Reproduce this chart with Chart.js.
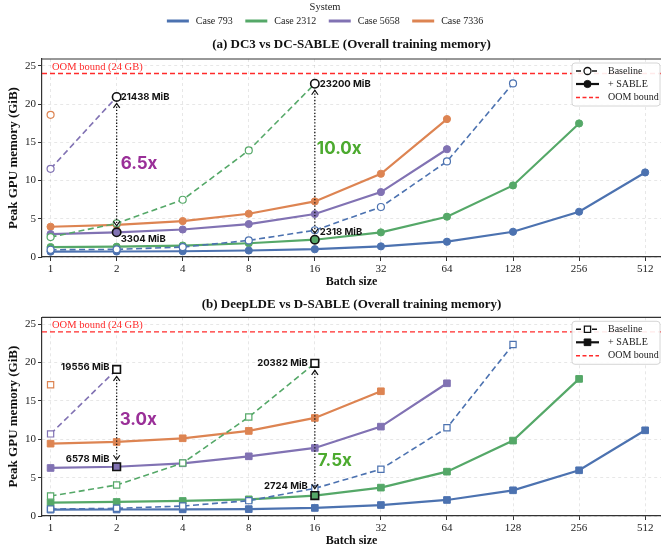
<!DOCTYPE html>
<html>
<head>
<meta charset="utf-8">
<script src="https://cdn.jsdelivr.net/npm/chart.js@4.4.1/dist/chart.umd.min.js"></script>
<style>
  html, body { margin: 0; padding: 0; background: #fff; }
  #wrap { position: relative; width: 661px; height: 553px; }
  canvas { position: absolute; left: 0; }
  #chartA { top: 0; }
  #chartB { top: 290px; }
</style>
</head>
<body>
<div id="wrap">
  <canvas id="chartA" width="661" height="290"></canvas>
  <canvas id="chartB" width="661" height="259"></canvas>
</div>
<script>
const batchSizes = [1, 2, 4, 8, 16, 32, 64, 128, 256, 512];
const caseNames = ["Case 793", "Case 2312", "Case 5658", "Case 7336"];
const caseColors = ["#4C72B0", "#55A868", "#8172B3", "#DD8452"];
const yTicks = [0, 5, 10, 15, 20, 25];
const OOM_GIB = 24;

// (a) DC3 (baseline) peak memory, GiB, starting at batch 1
const dc3Case793 = [0.95, 1.0, 1.3, 2.17, 3.5, 6.54, 12.5, 22.7];
const dc3Case2312 = [2.6, 4.4, 7.49, 13.94, 22.66];
const dc3Case5658 = [11.54, 20.94];
const dc3Case7336 = [18.6];
// (a) DC-SABLE
const dcsCase793 = [0.7, 0.72, 0.75, 0.85, 1.02, 1.39, 2.0, 3.3, 5.92, 11.06];
const dcsCase2312 = [1.3, 1.35, 1.5, 1.8, 2.26, 3.22, 5.27, 9.36, 17.47];
const dcsCase5658 = [3.0, 3.23, 3.6, 4.31, 5.62, 8.49, 14.1];
const dcsCase7336 = [3.96, 4.2, 4.7, 5.66, 7.27, 10.89, 18.04];

// (b) DeepLDE (baseline)
const ldeCase793 = [0.9, 1.0, 1.3, 2.0, 3.6, 6.1, 11.5, 22.35];
const ldeCase2312 = [2.6, 4.04, 6.9, 12.9, 19.9];
const ldeCase5658 = [10.7, 19.1];
const ldeCase7336 = [17.1];
// (b) D-SABLE
const dslCase793 = [0.83, 0.85, 0.87, 0.9, 1.05, 1.43, 2.09, 3.35, 5.96, 11.17];
const dslCase2312 = [1.74, 1.83, 1.96, 2.17, 2.66, 3.7, 5.78, 9.83, 17.87];
const dslCase5658 = [6.26, 6.42, 6.87, 7.78, 8.87, 11.65, 17.3];
const dslCase7336 = [9.43, 9.65, 10.13, 11.09, 12.78, 16.26];

// highlighted gaps (MiB labels)
const gapsA = [
  { caseIdx: 2, batch: 2, baseMiB: 21438, sableMiB: 3304, ratioY: 12.2, ratioColor: "#9a2f98", align: "left", dx: 4, baseDy: 0, sableDy: 6.5, ratioDx: 4 },
  { caseIdx: 1, batch: 16, baseMiB: 23200, sableMiB: 2318, ratioY: 14.2, ratioColor: "#4caa2f", align: "left", dx: 5, baseDy: 0, sableDy: -8, ratioDx: 2 }
];
const gapsB = [
  { caseIdx: 2, batch: 2, baseMiB: 19556, sableMiB: 6578, ratioY: 12.57, ratioColor: "#9a2f98", align: "right", dx: -7, baseDy: -2.5, sableDy: -8, ratioDx: 3 },
  { caseIdx: 1, batch: 16, baseMiB: 20382, sableMiB: 2724, ratioY: 7.17, ratioColor: "#4caa2f", align: "right", dx: -7, baseDy: 0, sableDy: -9.5, ratioDx: 3 }
];

const SERIF = '"Liberation Serif", "Times New Roman", serif';
const SANS = 'Inter, "DejaVu Sans", sans-serif';
const X_MIN = Math.pow(2, -0.13);
const X_MAX = Math.pow(2, 9.24);
const Y_MAX = 25.9;

function toPoints(values) {
    return values.map((v, k) => ({ x: batchSizes[k], y: v }));
}

function buildDatasets(baseSets, sableSets, marker) {
    const ds = [];
    const rect = marker === "rect";
    caseNames.forEach((name, i) => {
        const color = caseColors[i];
        ds.push({
            label: name + " baseline",
            data: toPoints(baseSets[i]),
            borderColor: color,
            backgroundColor: "#fff",
            borderWidth: 1.6,
            borderDash: [6, 3.5],
            pointStyle: marker,
            pointRadius: rect ? 4.4 : 3.5,
            pointBorderWidth: 1.2,
            pointBorderColor: color,
            pointBackgroundColor: "#fff"
        });
        ds.push({
            label: name + " SABLE",
            data: toPoints(sableSets[i]),
            borderColor: color,
            backgroundColor: color,
            borderWidth: 2.2,
            pointStyle: marker,
            pointRadius: rect ? 4.7 : 3.6,
            pointBorderWidth: 1,
            pointBorderColor: color,
            pointBackgroundColor: color
        });
    });
    ds.push({
        label: "OOM bound",
        data: [{ x: X_MIN, y: OOM_GIB }, { x: X_MAX, y: OOM_GIB }],
        borderColor: "#ff2b2b",
        borderWidth: 1.4,
        borderDash: [5, 3],
        pointRadius: 0
    });
    return ds;
}

function makeScales() {
    const grid = { color: "rgba(0,0,0,0.12)", lineWidth: 0.8, tickLength: 4, tickColor: "#333", tickWidth: 1 };
    const border = { display: true, color: "#333", width: 1.2, dash: [3, 3] };
    return {
        x: {
            type: "logarithmic",
            min: X_MIN,
            max: X_MAX,
            afterBuildTicks: axis => { axis.ticks = batchSizes.map(v => ({ value: v })); },
            afterFit: axis => { axis.height = 33; axis.paddingLeft = 0; axis.paddingRight = 0; },
            ticks: { callback: v => String(v), autoSkip: false, maxRotation: 0, font: { family: SERIF, size: 11 }, color: "#222", padding: 1.5 },
            grid: grid,
            border: border,
            title: { display: true, text: "Batch size", color: "#111", font: { family: SERIF, size: 12, weight: "bold" }, padding: { top: 0, bottom: 0.8 } }
        },
        y: {
            min: 0,
            max: Y_MAX,
            afterBuildTicks: axis => { axis.ticks = yTicks.map(v => ({ value: v })); },
            afterFit: axis => { axis.width = 42; axis.paddingTop = 0; axis.paddingBottom = 0; },
            ticks: { font: { family: SERIF, size: 11 }, color: "#222", padding: 2 },
            grid: grid,
            border: border,
            title: { display: true, text: "Peak GPU memory (GiB)", color: "#111", font: { family: SERIF, size: 13, weight: "bold" }, padding: { top: 5.5, bottom: 0 } }
        }
    };
}

// top spine + OOM text + inner legend + gap arrows
function panelPlugin(gaps, baseSets, sableSets, marker) {
    const rect = marker === "rect";
    return {
        id: "panel",
        afterDatasetsDraw(chart) {
            const ctx = chart.ctx;
            const xs = chart.scales.x, ys = chart.scales.y;
            const area = chart.chartArea;
            ctx.save();

            // OOM label
            ctx.font = "10.5px " + SERIF;
            ctx.fillStyle = "#ff2b2b";
            ctx.textAlign = "left";
            ctx.textBaseline = "middle";
            ctx.fillText("OOM bound (24 GB)", area.left + 10, ys.getPixelForValue(OOM_GIB) - 6.5);

            gaps.forEach(g => {
                const k = batchSizes.indexOf(g.batch);
                const baseVal = baseSets[g.caseIdx][k];
                const sableVal = sableSets[g.caseIdx][k];
                const color = caseColors[g.caseIdx];
                const x = xs.getPixelForValue(g.batch);
                const yb = ys.getPixelForValue(baseVal);
                const ysb = ys.getPixelForValue(sableVal);
                const off = rect ? 7 : 6.5;
                const y1 = yb + off, y2 = ysb - off;

                ctx.strokeStyle = "#111";
                ctx.lineWidth = 1.3;
                ctx.setLineDash([1.3, 1.9]);
                ctx.beginPath();
                ctx.moveTo(x, y1);
                ctx.lineTo(x, y2);
                ctx.stroke();
                ctx.setLineDash([]);
                ctx.lineWidth = 1.2;
                ctx.beginPath();
                ctx.moveTo(x - 3.2, y1 + 4.5);
                ctx.lineTo(x, y1);
                ctx.lineTo(x + 3.2, y1 + 4.5);
                ctx.moveTo(x - 3.2, y2 - 4.5);
                ctx.lineTo(x, y2);
                ctx.lineTo(x + 3.2, y2 - 4.5);
                ctx.stroke();

                // highlighted markers
                const opt = { pointStyle: marker, radius: rect ? 5.4 : 4.2, rotation: 0, borderWidth: 1.6 };
                ctx.strokeStyle = "#111";
                ctx.lineWidth = 1.6;
                ctx.fillStyle = "#fff";
                Chart.helpers.drawPoint(ctx, opt, x, yb);
                ctx.fillStyle = color;
                Chart.helpers.drawPoint(ctx, opt, x, ysb);

                // labels
                ctx.font = "bold 9.5px " + SANS;
                ctx.fillStyle = "#111";
                ctx.textAlign = g.align;
                ctx.textBaseline = "middle";
                ctx.fillText(g.baseMiB + " MiB", x + g.dx, yb + g.baseDy);
                ctx.fillText(g.sableMiB + " MiB", x + g.dx, ysb + g.sableDy);

                ctx.font = "bold 17px " + SANS;
                ctx.fillStyle = g.ratioColor;
                ctx.textAlign = "left";
                ctx.fillText((g.baseMiB / g.sableMiB).toFixed(1) + "x", x + g.ratioDx, ys.getPixelForValue(g.ratioY));
            });
            ctx.restore();
        },
        afterDraw(chart) {
            const ctx = chart.ctx;
            const area = chart.chartArea;
            ctx.save();
            // top spine
            ctx.strokeStyle = "#333";
            ctx.lineWidth = 1.2;
            ctx.beginPath();
            ctx.moveTo(area.left, area.top);
            ctx.lineTo(area.right, area.top);
            ctx.stroke();

            // inner legend
            const bw = 88, bh = 43;
            const bx = area.right - bw - 1, by = area.top + 4;
            ctx.fillStyle = "rgba(255,255,255,0.9)";
            ctx.strokeStyle = "#cccccc";
            ctx.lineWidth = 0.8;
            ctx.beginPath();
            ctx.roundRect(bx, by, bw, bh, 3);
            ctx.fill();
            ctx.stroke();

            const hx0 = bx + 4, hx1 = bx + 27, hm = (hx0 + hx1) / 2;
            const rows = [by + 8, by + 21, by + 34.5];
            // Baseline
            ctx.strokeStyle = "#111";
            ctx.lineWidth = 1.6;
            ctx.setLineDash([5, 3]);
            ctx.beginPath(); ctx.moveTo(hx0, rows[0]); ctx.lineTo(hx1, rows[0]); ctx.stroke();
            ctx.setLineDash([]);
            ctx.lineWidth = 1.3;
            ctx.fillStyle = "#fff";
            Chart.helpers.drawPoint(ctx, { pointStyle: marker, radius: rect ? 4.4 : 3.5, rotation: 0, borderWidth: 1.3 }, hm, rows[0]);
            // SABLE
            ctx.lineWidth = 2.2;
            ctx.beginPath(); ctx.moveTo(hx0, rows[1]); ctx.lineTo(hx1, rows[1]); ctx.stroke();
            ctx.fillStyle = "#111";
            ctx.lineWidth = 1;
            Chart.helpers.drawPoint(ctx, { pointStyle: marker, radius: rect ? 4.7 : 3.6, rotation: 0, borderWidth: 1 }, hm, rows[1]);
            // OOM
            ctx.strokeStyle = "#ff2b2b";
            ctx.lineWidth = 1.5;
            ctx.setLineDash([4, 2.5]);
            ctx.beginPath(); ctx.moveTo(hx0, rows[2]); ctx.lineTo(hx1, rows[2]); ctx.stroke();
            ctx.setLineDash([]);

            ctx.font = "10px " + SERIF;
            ctx.fillStyle = "#222";
            ctx.textAlign = "left";
            ctx.textBaseline = "middle";
            ctx.fillText("Baseline", bx + 36, rows[0]);
            ctx.fillText("+ SABLE", bx + 36, rows[1]);
            ctx.fillText("OOM bound", bx + 36, rows[2]);
            ctx.restore();
        }
    };
}

const systemLegend = {
    id: "systemLegend",
    afterDraw(chart) {
        const ctx = chart.ctx;
        const cx = 325;
        ctx.save();
        ctx.fillStyle = "#222";
        ctx.textBaseline = "middle";
        ctx.textAlign = "center";
        ctx.font = "10.5px " + SERIF;
        ctx.fillText("System", cx, 7);
        ctx.font = "10px " + SERIF;
        const handle = 22, gap = 7, sep = 12.5;
        const widths = caseNames.map(n => ctx.measureText(n).width);
        const total = widths.reduce((a, w) => a + handle + gap + w, 0) + sep * (caseNames.length - 1);
        let x = cx - total / 2;
        ctx.textAlign = "left";
        caseNames.forEach((n, i) => {
            ctx.strokeStyle = caseColors[i];
            ctx.lineWidth = 3;
            ctx.beginPath();
            ctx.moveTo(x, 21);
            ctx.lineTo(x + handle, 21);
            ctx.stroke();
            ctx.fillText(n, x + handle + gap, 21);
            x += handle + gap + widths[i] + sep;
        });
        ctx.restore();
    }
};

function makeChart(id, title, baseSets, sableSets, marker, gaps, padTop, titlePad, extra) {
    return new Chart(document.getElementById(id), {
        type: "line",
        data: { datasets: buildDatasets(baseSets, sableSets, marker) },
        options: {
            responsive: false,
            animation: false,
            devicePixelRatio: 1,
            layout: { autoPadding: false, padding: { top: padTop, left: 0, right: 0, bottom: 0 } },
            plugins: {
                legend: { display: false },
                tooltip: { enabled: false },
                title: {
                    display: true,
                    text: title,
                    fullSize: false,
                    color: "#111",
                    font: { family: SERIF, size: 13, weight: "bold" },
                    padding: titlePad
                }
            },
            scales: makeScales()
        },
        plugins: [panelPlugin(gaps, baseSets, sableSets, marker)].concat(extra)
    });
}

const dc3Sets = [dc3Case793, dc3Case2312, dc3Case5658, dc3Case7336];
const dcsSets = [dcsCase793, dcsCase2312, dcsCase5658, dcsCase7336];
const ldeSets = [ldeCase793, ldeCase2312, ldeCase5658, ldeCase7336];
const dslSets = [dslCase793, dslCase2312, dslCase5658, dslCase7336];

makeChart("chartA", "(a) DC3 vs DC-SABLE (Overall training memory)", dc3Sets, dcsSets, "circle", gapsA, 37, { top: 0.2, bottom: 6.2 }, [systemLegend]);
makeChart("chartB", "(b) DeepLDE vs D-SABLE (Overall training memory)", ldeSets, dslSets, "rect", gapsB, 0, { top: 7.2, bottom: 4.5 }, []);
</script>
</body>
</html>
